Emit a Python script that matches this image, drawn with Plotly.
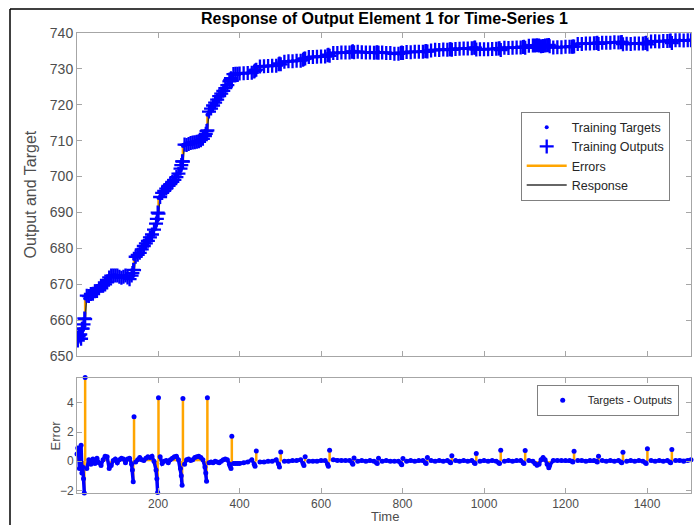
import plotly.graph_objects as go

# ---------------- data ----------------
time = [
    1, 3, 5, 7, 9, 11, 13, 15, 17, 19, 21,
    25, 30, 35, 40, 45, 50, 55, 60, 65, 70, 75, 80, 85, 90, 95, 100, 105, 110, 115, 120, 125, 130, 135, 137, 139, 141,
    145, 150, 155, 160, 165, 170, 175, 180, 185, 190, 195, 197, 199, 201,
    205, 210, 215, 220, 225, 230, 235, 240, 245, 250, 255, 257, 259, 261,
    265, 270, 275, 280, 285, 290, 295, 300, 305, 310, 315, 317, 319, 321,
    325, 330, 335, 340, 345, 350, 355, 360, 365, 370, 375, 377, 379, 381,
    385, 390, 395, 400, 410, 420, 430, 436, 438, 441,
    450, 460, 470, 480, 490, 496, 498, 501,
    510, 520, 530, 540, 550, 556, 558, 561,
    570, 580, 590, 600, 610, 616, 618, 621,
    630, 640, 650, 660, 670, 676, 678, 681,
    690, 700, 710, 720, 730, 736, 738, 741,
    750, 760, 770, 780, 790, 796, 798, 801,
    810, 820, 830, 840, 850, 856, 858, 861,
    870, 880, 890, 900, 910, 916, 918, 921,
    930, 940, 950, 960, 970, 976, 978, 981,
    990, 1000, 1010, 1020, 1030, 1036, 1038, 1041,
    1050, 1060, 1070, 1080, 1090, 1096, 1098, 1101,
    1110, 1120, 1125, 1130, 1135, 1140, 1145, 1150, 1155, 1159, 1161,
    1170, 1180, 1190, 1200, 1210, 1216, 1218, 1221,
    1230, 1240, 1250, 1260, 1270, 1276, 1278, 1281,
    1290, 1300, 1310, 1320, 1330, 1336, 1338, 1341,
    1350, 1360, 1370, 1380, 1390, 1396, 1398, 1401,
    1410, 1420, 1430, 1440, 1450, 1456, 1458, 1461,
    1470, 1480, 1490, 1500, 1508,
]

target = [
    655.6, 655.2, 656.0, 655.4, 656.3, 655.9, 656.8, 657.2, 657.6, 658.3, 666.0,
    666.3, 666.8, 667.1, 667.5, 667.9, 668.3, 668.8, 669.3, 669.7, 670.3, 670.8, 671.4, 672.1, 672.5, 672.6, 672.3, 672.2, 672.0, 672.2, 672.3, 672.0, 671.6, 672.2, 672.5, 672.6, 677.0,
    677.6, 678.3, 679.0, 679.8, 680.7, 681.6, 682.4, 683.3, 684.2, 685.2, 686.3, 687.0, 687.8, 694.0,
    694.6, 695.3, 696.0, 696.7, 697.3, 698.0, 698.7, 699.4, 700.2, 700.9, 701.7, 702.2, 702.6, 708.5,
    708.7, 708.9, 709.2, 709.4, 709.6, 709.8, 710.0, 710.2, 710.4, 710.6, 710.9, 711.1, 711.3, 717.2,
    718.0, 718.9, 719.7, 720.6, 721.4, 722.3, 723.1, 724.0, 724.8, 725.6, 726.3, 726.6, 726.9, 728.4,
    728.4, 728.5, 728.5, 728.6, 728.7, 728.8, 729.0, 729.1, 729.2, 730.5,
    730.6, 730.7, 730.8, 730.9, 731.0, 731.1, 731.1, 731.9,
    732.0, 732.1, 732.2, 732.3, 732.4, 732.4, 732.5, 733.2,
    733.3, 733.3, 733.4, 733.5, 733.5, 733.6, 733.6, 734.4,
    734.5, 734.5, 734.6, 734.6, 734.6, 734.7, 734.7, 734.9,
    734.8, 734.7, 734.6, 734.6, 734.5, 734.5, 734.5, 734.7,
    734.6, 734.5, 734.4, 734.2, 734.2, 734.3, 734.3, 734.6,
    734.7, 734.7, 734.8, 734.8, 734.8, 734.8, 734.8, 735.1,
    735.2, 735.3, 735.3, 735.4, 735.4, 735.4, 735.4, 735.7,
    735.6, 735.6, 735.7, 735.7, 735.8, 735.8, 735.8, 735.9,
    735.5, 735.5, 735.5, 735.6, 735.6, 735.6, 735.6, 736.0,
    735.9, 735.9, 735.9, 736.0, 736.0, 736.0, 736.0, 736.6,
    736.5, 736.5, 736.4, 736.3, 736.3, 736.4, 736.6, 736.6, 736.4, 736.2, 736.0,
    736.0, 736.1, 736.1, 736.2, 736.2, 736.2, 736.2, 736.9,
    737.0, 737.0, 737.1, 737.1, 737.2, 737.2, 737.2, 737.3,
    737.3, 737.3, 737.3, 737.4, 737.4, 737.4, 737.4, 737.5,
    737.0, 737.0, 737.1, 737.1, 737.1, 737.1, 737.1, 737.7,
    737.7, 737.7, 737.7, 737.8, 737.8, 737.8, 737.8, 738.0,
    738.0, 738.0, 737.9, 738.0, 738.1,
]

error = [
    0.5, 0.9, 0.6, -0.5, 0.3, 1.1, -0.8, -0.4, -1.2, -2.18, 5.745,
    -0.5, 0.1, -0.2, 0.15, -0.15, 0.2, -0.1, -0.3, 0.1, 0.35, 0.3, -0.5, -0.3, 0.05, 0.15, -0.1, 0.1, 0.2, 0.15, -0.1, 0.15, 0.2, -0.2, -0.6, -1.4, 3.05,
    -0.05, 0.1, 0.25, 0.1, 0.05, 0.2, 0.3, 0.25, 0.35, 0.0, -0.6, -1.2, -2.15, 4.35,
    0.3, -0.15, 0.0, 0.05, -0.1, 0.1, 0.2, 0.3, 0.35, 0.1, -0.5, -1.0, -1.65, 4.3,
    -0.2, 0.1, 0.15, 0.05, 0.1, 0.25, 0.3, 0.35, 0.25, 0.1, -0.4, -0.8, -1.38, 4.35,
    -0.1, -0.05, -0.1, 0.0, -0.05, -0.1, 0.0, 0.1, 0.15, 0.1, -0.2, -0.35, -0.5, 1.72,
    -0.15, -0.15, -0.15, -0.15, -0.1, -0.05, 0.1, -0.2, -0.35, 0.71,
    -0.05, -0.05, 0.0, 0.0, 0.1, -0.2, -0.4, 0.64,
    0.0, 0.0, 0.05, 0.05, 0.1, -0.15, -0.3, 0.3,
    0.0, 0.0, 0.0, 0.05, 0.05, -0.2, -0.35, 0.76,
    0.1, 0.05, 0.05, 0.05, 0.05, -0.1, -0.2, 0.23,
    0.0, 0.05, 0.0, 0.05, 0.0, -0.1, -0.15, 0.2,
    0.0, 0.05, 0.0, 0.0, 0.0, -0.15, -0.25, 0.18,
    0.0, 0.05, 0.0, 0.05, 0.05, -0.1, -0.15, 0.25,
    0.05, 0.0, 0.05, 0.0, 0.05, -0.05, -0.1, 0.37,
    0.05, 0.0, 0.05, 0.0, 0.05, -0.1, -0.15, 0.53,
    0.0, 0.05, 0.0, 0.05, 0.0, -0.1, -0.15, 0.76,
    0.0, 0.05, 0.0, 0.05, 0.05, -0.1, -0.15, 0.74,
    0.05, 0.0, -0.15, -0.28, -0.2, 0.1, 0.25, 0.1, -0.2, -0.45, -0.3,
    0.05, 0.05, 0.05, 0.05, 0.05, 0.0, -0.05, 0.69,
    0.05, 0.05, 0.0, 0.05, 0.05, 0.0, -0.05, 0.34,
    0.05, 0.0, 0.05, 0.0, 0.05, -0.05, -0.1, 0.62,
    0.0, 0.05, 0.0, 0.05, 0.0, -0.1, -0.15, 0.85,
    0.05, 0.0, 0.05, 0.0, 0.05, -0.05, -0.1, 0.8,
    0.05, 0.05, 0.0, 0.05, 0.1,
]

# times at which the target steps (error spikes)
step_times = [21, 141, 201, 261, 321, 381, 441, 501, 561, 621, 681, 741, 801, 861,
              921, 981, 1041, 1101, 1221, 1281, 1341, 1401, 1461]

x_ticks = [200, 400, 600, 800, 1000, 1200, 1400]
y_ticks_top = [650, 660, 670, 680, 690, 700, 710, 720, 730, 740]
y_ticks_err = [-2, 0, 2, 4]

assert len(time) == len(target) == len(error), (len(time), len(target), len(error))
output = [a - e for a, e in zip(target, error)]

# ---------------- geometry helpers ----------------
W, H = 694, 525
L, R, T, B = 77, 3, 33, 32
PW, PH = W - L - R, H - T - B


def px(x):
    return (x - L) / PW


def py(y):
    return (H - B - y) / PH


FONT = "Liberation Sans, Arial, sans-serif"
BLUE = "#0000ff"
ORANGE = "#ffa500"
AXC = "#a6a6a6"
TXC = "#4d4d4d"

# error segments (top: target -> output, bottom: 0 -> error)
ex, ey = [], []
for t, a, o in zip(time, target, output):
    ex += [t, t, None]
    ey += [a, o, None]
sx, sy = [], []
for t, e in zip(time, error):
    sx += [t, t, None]
    sy += [0, e, None]
# continuous error band, broken at the step spikes
bx, by = [], []
for t, e in zip(time, error):
    if t in step_times:
        bx.append(None)
        by.append(None)
    else:
        bx.append(t)
        by.append(e)

fig = go.Figure()
fig.add_trace(go.Scatter(x=ex, y=ey, mode="lines", name="Errors",
                         line=dict(color=ORANGE, width=2.5), legendrank=3,
                         xaxis="x", yaxis="y", legend="legend"))
fig.add_trace(go.Scatter(x=time, y=output, mode="lines", name="Response",
                         line=dict(color="#333333", width=1.5), legendrank=4,
                         xaxis="x", yaxis="y", legend="legend"))
fig.add_trace(go.Scatter(x=time, y=target, mode="markers", name="Training Targets",
                         marker=dict(color=BLUE, size=4, symbol="circle"), legendrank=1,
                         xaxis="x", yaxis="y", legend="legend"))
fig.add_trace(go.Scatter(x=time, y=output, mode="markers", name="Training Outputs",
                         marker=dict(color=BLUE, size=10, symbol="cross-thin",
                                     line=dict(color=BLUE, width=2.3)), legendrank=2,
                         xaxis="x", yaxis="y", legend="legend"))
fig.add_trace(go.Scatter(x=sx, y=sy, mode="lines", showlegend=False,
                         line=dict(color=ORANGE, width=2.5), cliponaxis=False,
                         xaxis="x2", yaxis="y2"))
fig.add_trace(go.Scatter(x=bx, y=by, mode="lines", showlegend=False,
                         line=dict(color=BLUE, width=3.5), connectgaps=False,
                         xaxis="x2", yaxis="y2"))
fig.add_trace(go.Scatter(x=time, y=error, mode="markers", name="Targets - Outputs",
                         marker=dict(color=BLUE, size=5), cliponaxis=False,
                         xaxis="x2", yaxis="y2", legend="legend2"))

axis_common = dict(showline=True, linecolor=AXC, linewidth=1, mirror="ticks",
                   ticks="inside", ticklen=5, tickcolor=AXC, showgrid=False,
                   zeroline=False, tickfont=dict(family=FONT, color=TXC))

fig.update_layout(
    width=W, height=H,
    margin=dict(l=L, r=R, t=T, b=B),
    paper_bgcolor="white", plot_bgcolor="white",
    font=dict(family=FONT, color=TXC),
    xaxis=dict(domain=[0, 1], anchor="y", range=[1, 1508], tickvals=x_ticks,
               showticklabels=False, **axis_common),
    yaxis=dict(domain=[py(356), 1], anchor="x", range=[650, 740], tickvals=y_ticks_top,
               **{**axis_common, "tickfont": dict(family=FONT, color=TXC, size=14)}),
    xaxis2=dict(domain=[0, 1], anchor="y2", range=[1, 1508], tickvals=x_ticks,
                **{**axis_common, "tickfont": dict(family=FONT, color=TXC, size=12)}),
    yaxis2=dict(domain=[0, py(377.5)], anchor="x2", range=[-2.18, 5.745], tickvals=y_ticks_err,
                **{**axis_common, "tickfont": dict(family=FONT, color=TXC, size=12)}),
    legend=dict(x=px(520.7), y=py(111.5), xanchor="left", yanchor="top",
                bordercolor="#808080", borderwidth=1, bgcolor="white",
                font=dict(family=FONT, size=12.5, color="#262626"), itemwidth=40,
                traceorder="normal", tracegroupgap=0),
    legend2=dict(x=px(536.7), y=py(384.7), xanchor="left", yanchor="top",
                 bordercolor="#808080", borderwidth=1, bgcolor="white",
                 font=dict(family=FONT, size=11, color="#262626"), itemwidth=40),
    showlegend=True,
)

annotations = [
    dict(text="<b>Response of Output Element 1 for Time-Series 1</b>", x=px(384.5), y=py(18),
         font=dict(family=FONT, size=16, color="#000000")),
    dict(text="Output and Target", x=px(30), y=py(194.5), textangle=-90,
         font=dict(family=FONT, size=16, color=TXC)),
    dict(text="Error", x=px(55), y=py(435.4), textangle=-90,
         font=dict(family=FONT, size=13, color=TXC)),
    dict(text="Time", x=px(384.5), y=py(516), font=dict(family=FONT, size=13, color=TXC)),
]
for a in annotations:
    a.update(xref="paper", yref="paper", showarrow=False, xanchor="center", yanchor="middle")
fig.update_layout(annotations=annotations)

# figure window frame (left and top edges)
fig.add_shape(type="line", xref="paper", yref="paper", x0=px(10), x1=px(10), y0=py(525), y1=py(9),
              line=dict(color="black", width=1.5))
fig.add_shape(type="line", xref="paper", yref="paper", x0=px(10), x1=px(694), y0=py(9), y1=py(9),
              line=dict(color="black", width=1.5))

fig.write_html("out.html", config={"displayModeBar": False},
               post_script="document.body.style.margin='0px';document.body.style.overflow='hidden';")
